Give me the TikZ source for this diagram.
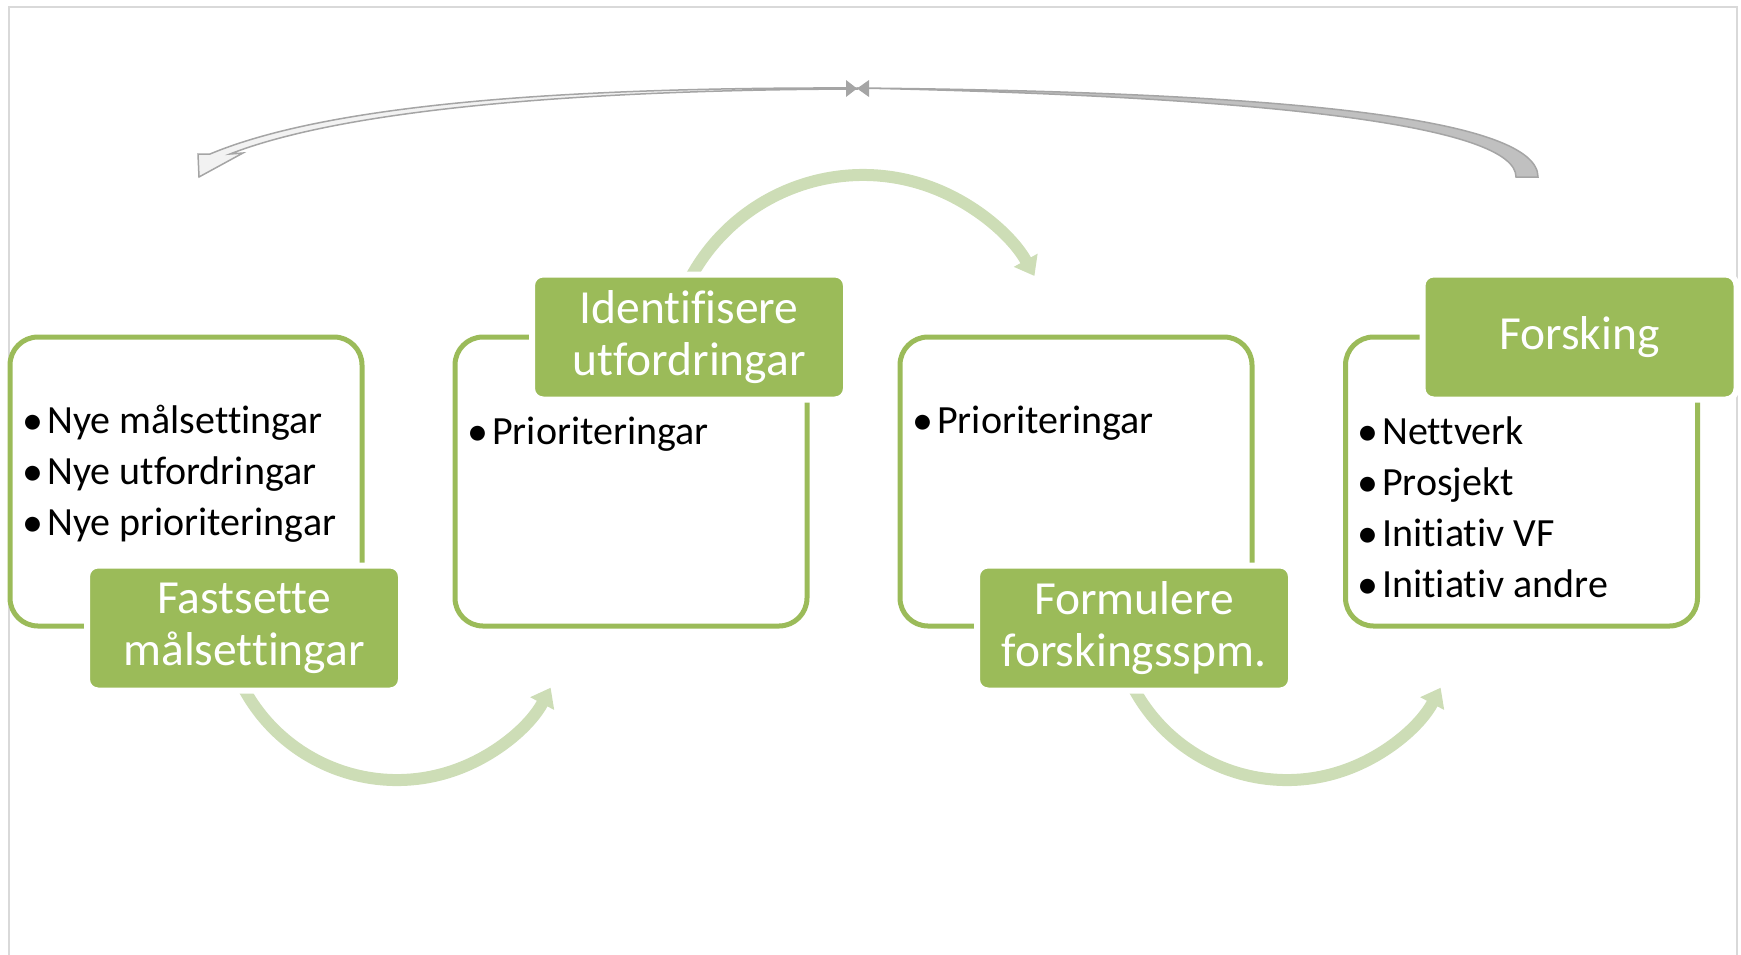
\documentclass[tikz,border=0pt]{standalone}
\usepackage{fontspec}
\setmainfont{Carlito}[Ligatures=NoCommon]
\usetikzlibrary{arrows.meta}

\definecolor{leaf}{RGB}{155,187,89}
\definecolor{paleleaf}{RGB}{205,221,182}
\definecolor{arrowgrey}{RGB}{165,165,165}
\definecolor{darkfill}{RGB}{192,192,192}
\definecolor{lightfill}{RGB}{242,242,242}
\definecolor{framegrey}{RGB}{217,217,217}

\newcommand{\bulletitem}[1]{\makebox[25pt][l]{{\fontsize{42}{42}\selectfont\raisebox{-1pt}{\textbullet}}}#1}

\begin{document}
\begin{tikzpicture}[x=1pt, y=-1pt,
	stage/.style={rectangle, rounded corners=28pt, draw=leaf, line width=5pt, outer sep=0pt, minimum width=352pt, minimum height=289pt},
	heading/.style={rectangle, rounded corners=11pt, fill=leaf, draw=white, line width=6pt, minimum width=314pt, minimum height=125pt, text=white, align=center, font=\fontsize{47.5}{52}\selectfont},
	item/.style={anchor=base west, inner sep=0pt, font=\fontsize{40}{46}\selectfont},
	roundarrow/.style={draw=paleleaf, line width=12pt, -{Triangle[width=26pt,length=18pt]}}
	]

	\useasboundingbox (0,0) rectangle (1741,954);
	\draw[framegrey, line width=2pt] (8.5,960) -- (8.5,7) -- (1737,7) -- (1737,960);

	\node (box1) [stage] at (186,481.5) {};
	\node (box2) [stage] at (631,481.5) {};
	\node (box3) [stage] at (1076,481.5) {};
	\node (box4) [stage] at (1521.5,481.5) {};

	% curved arrows between the stages
	\coordinate (mid1) at (397,606);
	\coordinate (mid2) at (863,371);
	\coordinate (mid3) at (1287,606);
	\draw[roundarrow] ([shift={(160:174)}]mid1) arc[start angle=160, end angle=28, radius=174];
	\draw[roundarrow] ([shift={(203:196)}]mid2) arc[start angle=203, end angle=331, radius=196];
	\draw[roundarrow] ([shift={(160:174)}]mid3) arc[start angle=160, end angle=28, radius=174];

	\node (head1) [heading] at ([xshift=234pt,yshift=-2pt]box1.south west) {Fastsette\\målsettingar};
	\node (head2) [heading] at ([xshift=234pt]box2.north west) {Identifisere\\utfordringar};
	\node (head3) [heading] at ([xshift=234pt,yshift=-2pt]box3.south west) {Formulere\\forskingsspm.};
	\node (head4) [heading] at ([xshift=234pt]box4.north west) {Forsking};

	\node (goal1) [item] at (22,433) {\bulletitem{Nye målsettingar}};
	\node (goal2) [item] at ([yshift=-51pt]goal1.base west) {\bulletitem{Nye utfordringar}};
	\node (goal3) [item] at ([yshift=-51pt]goal2.base west) {\bulletitem{Nye prioriteringar}};

	\node (chal1) [item] at (467,444) {\bulletitem{Prioriteringar}};

	\node (ques1) [item] at (912,433) {\bulletitem{Prioriteringar}};

	\node (res1) [item] at (1357,444) {\bulletitem{Nettverk}};
	\node (res2) [item] at ([yshift=-51pt]res1.base west) {\bulletitem{Prosjekt}};
	\node (res3) [item] at ([yshift=-51pt]res2.base west) {\bulletitem{Initiativ VF}};
	\node (res4) [item] at ([yshift=-51pt]res3.base west) {\bulletitem{Initiativ andre}};

	% return arrow over the top
	\filldraw[fill=darkfill, draw=arrowgrey, line width=1.5pt] (1516,177) -- (1538,177) .. controls (1538,120) and (1300,92) .. (857,88) .. controls (1290,97) and (1516,128) .. (1516,177) -- cycle;
	\filldraw[fill=lightfill, draw=arrowgrey, line width=1.5pt] (857,88) .. controls (550,87) and (325,106) .. (210,154) -- (198,154) -- (199,177) -- (243,153) -- (230,154) .. controls (335,113) and (550,90) .. (857,89) -- cycle;
	\fill[arrowgrey] (846,80) -- (857,88.5) -- (846,97) -- cycle;
	\fill[arrowgrey] (869,80) -- (857,88.5) -- (869,97) -- cycle;

\end{tikzpicture}
\end{document}
